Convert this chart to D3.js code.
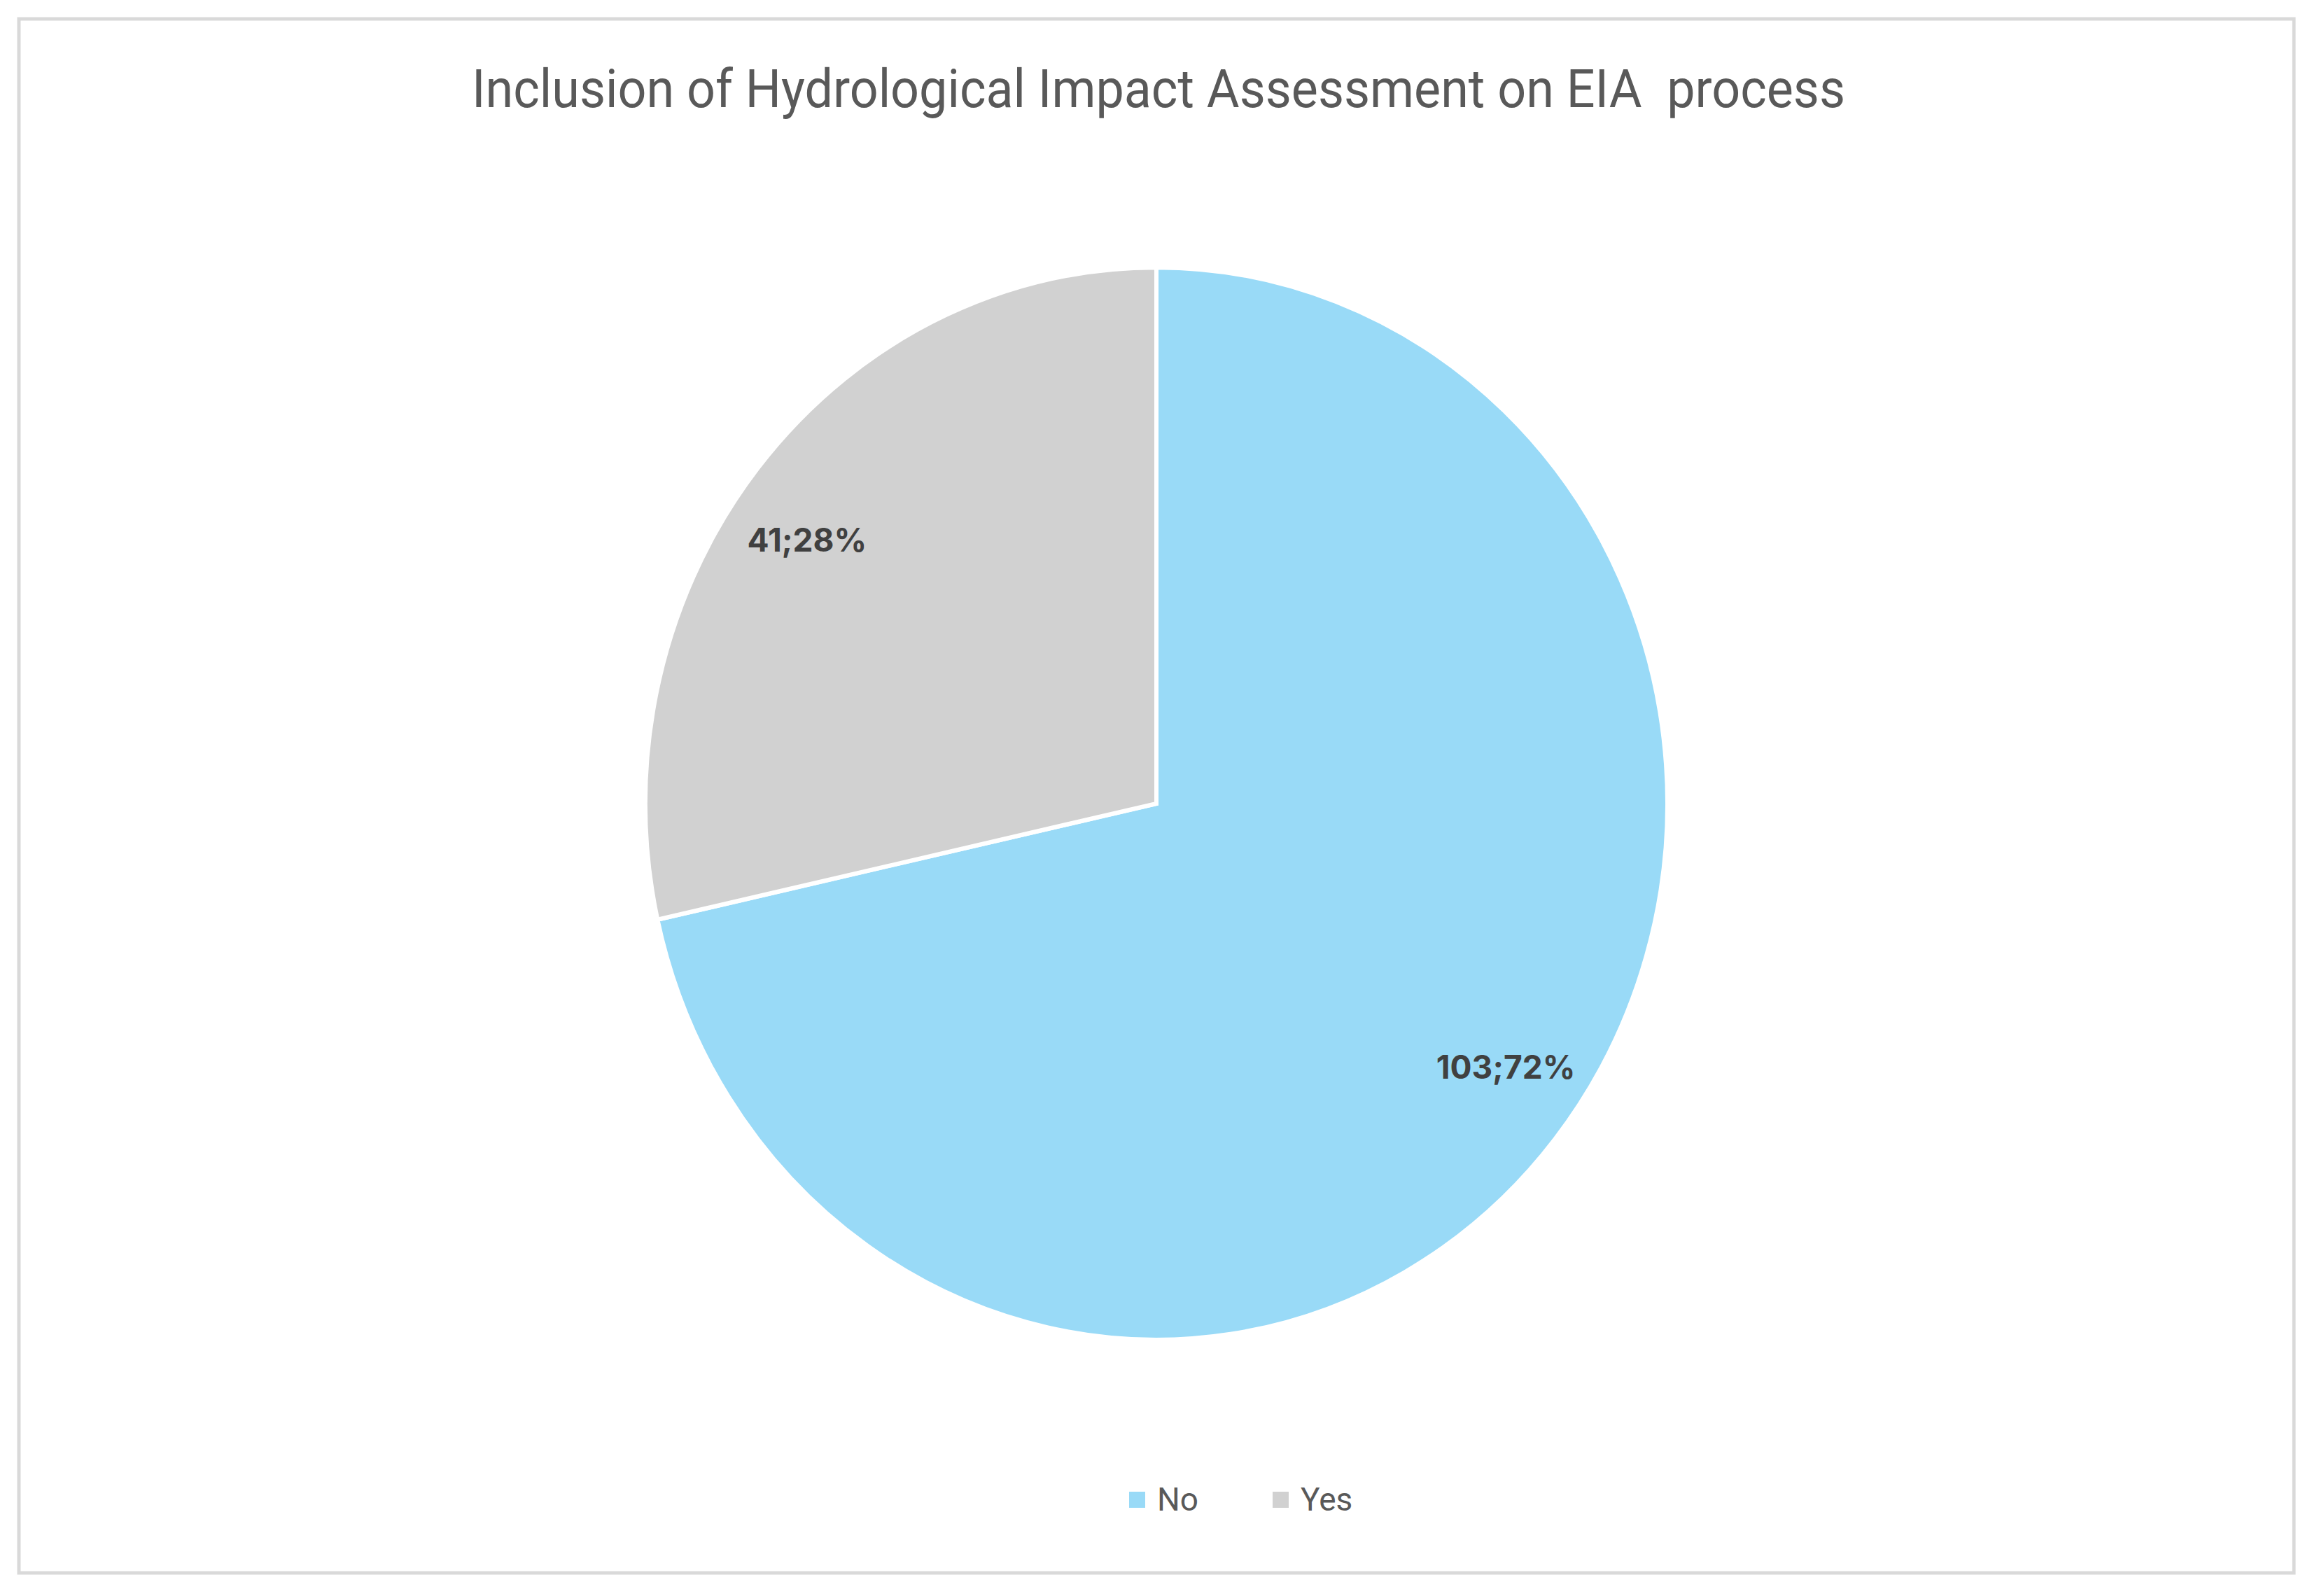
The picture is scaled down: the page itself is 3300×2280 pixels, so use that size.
<!DOCTYPE html>
<html>
<head>
<meta charset="utf-8">
<script src="https://cdn.jsdelivr.net/npm/d3@7"></script>
<style>
  html, body { margin: 0; padding: 0; background: #ffffff; }
  svg { display: block; }
</style>
</head>
<body>
<script>
// ---- Data ----
const title = "Inclusion of Hydrological Impact Assessment on EIA  process";
const categories = ["No", "Yes"];
const counts = [103, 41];
const percentLabels = ["72%", "28%"];
const colors = ["#99daf7", "#d1d1d1"];

// ---- Layout ----
const W = 3300, H = 2280;
const cx = 1652, cy = 1148;
const rx = 730, ry = 766;   // slightly elliptical, as in the reference

const svg = d3.select("body").append("svg")
  .attr("width", W).attr("height", H);

svg.append("rect").attr("x", 0).attr("y", 0).attr("width", W).attr("height", H).attr("fill", "#ffffff");

// outer frame
svg.append("rect")
  .attr("x", 27).attr("y", 27)
  .attr("width", 3250).attr("height", 2220)
  .attr("fill", "none").attr("stroke", "#d9d9d9").attr("stroke-width", 5);

// title
svg.append("text")
  .attr("x", 1655).attr("y", 153)
  .attr("text-anchor", "middle")
  .attr("font-family", "Roboto, 'Open Sans', sans-serif")
  .attr("font-size", 76)
  .attr("fill", "#595959")
  .attr("textLength", 1962)
  .attr("lengthAdjust", "spacingAndGlyphs")
  .style("white-space", "pre")
  .text(title);

// pie
const data = categories.map((c, i) => ({ cat: c, value: counts[i], pct: percentLabels[i], color: colors[i] }));
const pie = d3.pie().sort(null).value(d => d.value).startAngle(0).endAngle(2 * Math.PI);
const arcs = pie(data);
const arc = d3.arc().innerRadius(0).outerRadius(rx);

const g = svg.append("g")
  .attr("transform", `translate(${cx},${cy}) scale(1,${ry / rx})`);

g.selectAll("path.slice")
  .data(arcs)
  .enter().append("path")
  .attr("class", "slice")
  .attr("d", arc)
  .attr("fill", d => d.data.color)
  .attr("stroke", "#ffffff")
  .attr("stroke-width", 6)
  .attr("stroke-linejoin", "miter");

// data labels
const labelRx = 640, labelRy = 602;
const fs = 46;
svg.selectAll("text.dlabel")
  .data(arcs)
  .enter().append("text")
  .attr("class", "dlabel")
  .attr("x", d => { const a = (d.startAngle + d.endAngle) / 2; return cx + Math.sin(a) * labelRx; })
  .attr("y", d => { const a = (d.startAngle + d.endAngle) / 2; return cy - Math.cos(a) * labelRy + fs * 0.36; })
  .attr("text-anchor", "middle")
  .attr("font-family", "Inter, 'Open Sans', sans-serif")
  .attr("font-weight", 700)
  .attr("font-size", fs)
  .attr("fill", "#404040")
  .text(d => `${d.data.value};${d.data.pct}`);

// legend
const legendX = [1613, 1818];
const leg = svg.selectAll("g.legend")
  .data(data)
  .enter().append("g")
  .attr("class", "legend")
  .attr("transform", (d, i) => `translate(${legendX[i]},0)`);

leg.append("rect")
  .attr("x", 0).attr("y", 2131)
  .attr("width", 23).attr("height", 23)
  .attr("fill", d => d.color);

leg.append("text")
  .attr("x", 40).attr("y", 2158)
  .attr("font-family", "Roboto, 'Open Sans', sans-serif")
  .attr("font-size", 46)
  .attr("fill", "#595959")
  .text(d => d.cat);
</script>
</body>
</html>
